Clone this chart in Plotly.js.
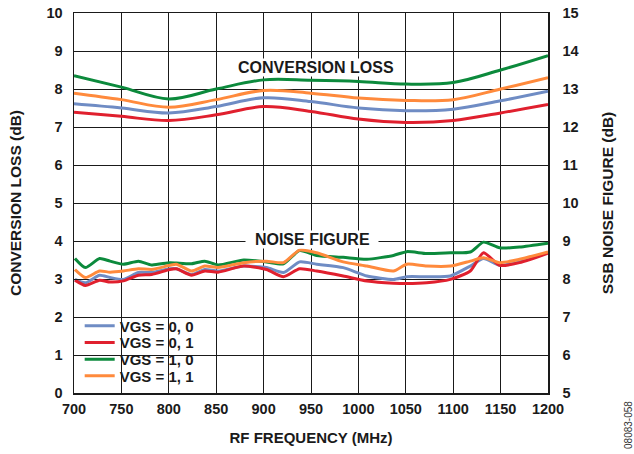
<!DOCTYPE html>
<html>
<head>
<meta charset="utf-8">
<script src="https://cdn.plot.ly/plotly-3.0.1.min.js"></script>
<style>html,body{margin:0;padding:0;background:#fff;}#chart{width:634px;height:454px;}</style>
</head>
<body>
<div id="chart"></div>
<script>
// Conversion loss (left axis, dB)
const clFreq = [700, 750, 800, 850, 900, 950, 1000, 1050, 1100, 1150, 1200];
const clVgs00 = [7.61, 7.50, 7.37, 7.54, 7.77, 7.67, 7.50, 7.43, 7.47, 7.69, 7.94];
const clVgs01 = [7.39, 7.28, 7.17, 7.32, 7.54, 7.41, 7.21, 7.12, 7.17, 7.37, 7.59];
const clVgs10 = [8.35, 8.05, 7.74, 8.00, 8.24, 8.23, 8.20, 8.13, 8.17, 8.50, 8.88];
const clVgs11 = [7.89, 7.72, 7.52, 7.72, 7.96, 7.89, 7.76, 7.70, 7.72, 8.00, 8.30];

// SSB noise figure (right axis, dB)
const nfFreq = [701, 712, 727, 738, 752, 768, 782, 801, 808, 824, 838, 852, 879, 903, 921, 938, 956, 984, 1009, 1037, 1051, 1072, 1097, 1118, 1132, 1149, 1170, 1200];
const nfVgs00 = [7.99, 7.90, 8.10, 8.04, 7.99, 8.17, 8.17, 8.27, 8.27, 8.12, 8.25, 8.21, 8.34, 8.30, 8.17, 8.45, 8.39, 8.30, 8.08, 7.99, 8.06, 8.06, 8.08, 8.34, 8.54, 8.36, 8.45, 8.69];
const nfVgs01 = [7.97, 7.83, 7.97, 7.92, 7.95, 8.10, 8.12, 8.25, 8.27, 8.10, 8.21, 8.18, 8.34, 8.25, 8.06, 8.27, 8.21, 8.08, 7.95, 7.89, 7.88, 7.90, 7.99, 8.21, 8.69, 8.36, 8.43, 8.68];
const nfVgs10 = [8.54, 8.30, 8.54, 8.47, 8.39, 8.47, 8.37, 8.43, 8.42, 8.40, 8.47, 8.37, 8.50, 8.45, 8.40, 8.75, 8.62, 8.57, 8.52, 8.62, 8.72, 8.67, 8.69, 8.71, 8.97, 8.82, 8.84, 8.94];
const nfVgs11 = [8.25, 8.04, 8.21, 8.18, 8.21, 8.27, 8.25, 8.36, 8.39, 8.21, 8.34, 8.30, 8.43, 8.47, 8.43, 8.76, 8.69, 8.45, 8.34, 8.21, 8.39, 8.34, 8.34, 8.47, 8.56, 8.43, 8.52, 8.71];

const names = ['VGS = 0, 0', 'VGS = 0, 1', 'VGS = 1, 0', 'VGS = 1, 1'];
const colors = ['#6f8cc4', '#e0202e', '#0c8a3c', '#ff8a3c'];
const clSeries = [clVgs00, clVgs01, clVgs10, clVgs11];
const nfSeries = [nfVgs00, nfVgs01, nfVgs10, nfVgs11];
const legendIds = ['legend', 'legend2', 'legend3', 'legend4'];

const traces = [];
for (let i = 0; i < 4; i++) {
  traces.push({
    x: clFreq, y: clSeries[i], type: 'scatter', mode: 'lines', name: names[i],
    legend: legendIds[i], legendgroup: 'g' + i,
    line: {color: colors[i], width: 3, shape: 'spline', smoothing: 1}
  });
}
for (let i = 0; i < 4; i++) {
  traces.push({
    x: nfFreq, y: nfSeries[i], type: 'scatter', mode: 'lines', name: names[i], yaxis: 'y2',
    legend: legendIds[i], legendgroup: 'g' + i, showlegend: false,
    line: {color: colors[i], width: 3, shape: 'spline', smoothing: 0.6}
  });
}

const F = 'Liberation Sans, Arial, Helvetica, sans-serif';
const INK = '#1a1a1a';
const axBase = {
  showgrid: true, gridcolor: INK, gridwidth: 1,
  showline: true, linecolor: INK, linewidth: 1.5, mirror: true,
  ticks: 'inside', ticklen: 6, tickcolor: INK, zeroline: false,
  tickfont: {family: F, size: 14.5, color: INK, weight: 'bold'}
};

// legend rows (pixel centers 326, 342.7, 359.3, 375 in a plot spanning y 13..393)
const legendRowY = [0.176, 0.132, 0.088, 0.045];

const layout = {
  width: 634, height: 454,
  margin: {l: 74, r: 86, t: 13, b: 61},
  paper_bgcolor: '#fff', plot_bgcolor: '#fff',
  showlegend: true,
  xaxis: Object.assign({}, axBase, {
    range: [700, 1200], dtick: 50, tick0: 700,
    ticklabelstandoff: 2,
    title: {text: 'RF FREQUENCY (MHz)', font: {family: F, size: 15, color: INK, weight: 'bold'}, standoff: 16}
  }),
  yaxis: Object.assign({}, axBase, {
    range: [0, 10], dtick: 1, tick0: 0,
    ticklabelstandoff: 7,
    title: {text: 'CONVERSION LOSS (dB)', font: {family: F, size: 15.5, color: INK, weight: 'bold'}, standoff: 21}
  }),
  yaxis2: Object.assign({}, axBase, {
    range: [5, 15], dtick: 1, tick0: 5, overlaying: 'y', side: 'right',
    showgrid: false, mirror: false,
    ticklabelstandoff: 10,
    title: {text: 'SSB NOISE FIGURE (dB)', font: {family: F, size: 15.5, color: INK, weight: 'bold'}, standoff: 24}
  }),
  shapes: [
    {type: 'rect', xref: 'paper', yref: 'paper', x0: 0.0127, x1: 0.268, y0: 0.006, y1: 0.213,
     fillcolor: '#fff', line: {width: 0}, layer: 'between'}
  ],
  annotations: [
    {x: 955, y: 8.56, xref: 'x', yref: 'y', text: 'CONVERSION LOSS', showarrow: false,
     bgcolor: '#fff', borderpad: 0, font: {family: F, size: 16, color: INK, weight: 'bold'}},
    {x: 951, y: 4.03, xref: 'x', yref: 'y', text: '&nbsp;&nbsp;NOISE FIGURE&nbsp;&nbsp;', showarrow: false,
     bgcolor: '#fff', borderpad: 0, font: {family: F, size: 16, color: INK, weight: 'bold'}},
    {x: 1.171, y: -0.084, xref: 'paper', yref: 'paper', xanchor: 'center', yanchor: 'middle',
     text: '08083-058', showarrow: false, textangle: -90,
     font: {family: F, size: 10, color: '#333'}}
  ]
};

for (let i = 0; i < 4; i++) {
  layout[legendIds[i]] = {
    x: 0.012, y: legendRowY[i], xanchor: 'left', yanchor: 'middle',
    bgcolor: 'rgba(0,0,0,0)', borderwidth: 0, itemwidth: 30,
    font: {family: F, size: 15, color: INK, weight: 'bold'}
  };
}

Plotly.newPlot('chart', traces, layout, {displayModeBar: false, staticPlot: true});
</script>
</body>
</html>
